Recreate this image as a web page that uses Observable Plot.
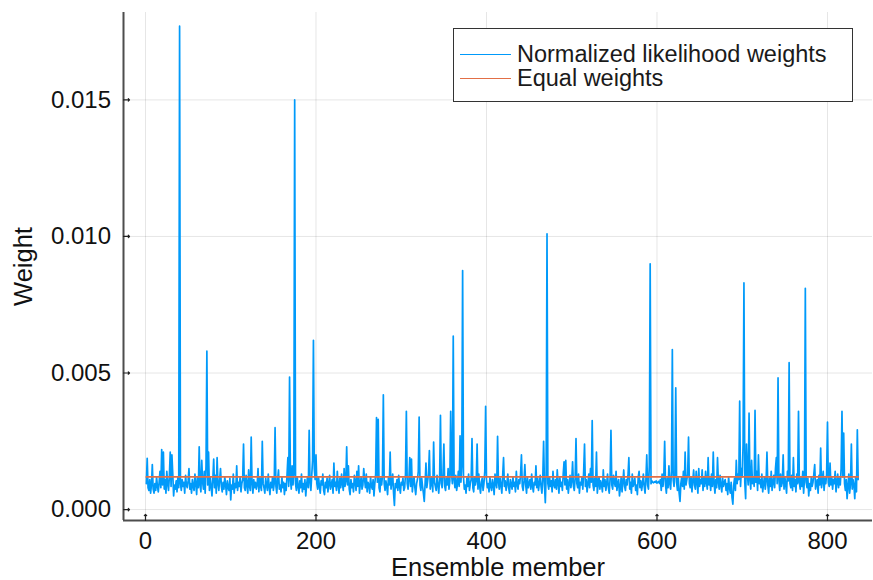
<!DOCTYPE html>
<html>
<head>
<meta charset="utf-8">
<script src="https://cdn.jsdelivr.net/npm/d3@7"></script>
<script src="https://cdn.jsdelivr.net/npm/@observablehq/plot@0.6"></script>
<style>
  html, body { margin: 0; padding: 0; background: #fff; }
  #wrap { position: relative; width: 873px; height: 580px; font-family: "Liberation Sans", Arial, sans-serif; }
  #legend { position: absolute; left: 453px; top: 28px; width: 400px; height: 74px; border: 1.5px solid #333; background: #fff; box-sizing: border-box; font-size: 23.5px; line-height: 24px; color: #1a1a1a; }
  #legend .row { position: absolute; left: 6px; height: 24px; display: flex; align-items: center; white-space: nowrap; }
  #legend .sw { width: 51px; height: 0; border-top: 1.5px solid; margin-right: 6px; }
  #legend span { display: inline-block; height: 24px; line-height: 24px; overflow: visible; }
</style>
</head>
<body>
<div id="wrap"></div>
<script>
// Normalized likelihood weights per ensemble member, in units of 1e-5
const weights1e5 = [
  95,188,80,70,110,60,90,165,75,60,95,70,120,85,65,100,140,80,220,90,
  210,75,110,60,140,95,70,120,210,85,200,130,50,90,75,105,65,120,80,1770,
  95,70,110,85,100,60,125,90,80,105,150,75,95,60,110,85,70,130,95,55,
  120,80,230,90,65,180,100,75,140,60,160,580,90,210,70,120,85,50,110,185,
  80,125,60,190,95,70,110,150,85,65,100,75,120,90,55,105,80,70,115,35,
  90,75,130,60,95,80,160,70,100,85,120,65,95,110,240,80,70,125,90,60,
  145,85,70,265,95,60,110,80,100,75,90,150,65,120,85,70,250,95,80,60,
  115,90,70,130,85,55,100,80,120,70,95,300,85,60,110,145,75,90,65,120,
  80,100,55,95,70,125,190,85,485,110,75,160,90,130,1500,95,70,120,85,60,
  105,80,130,65,95,75,110,50,90,120,80,290,100,70,125,180,620,150,110,200,
  95,75,120,85,60,105,90,130,70,55,100,80,115,65,95,125,75,90,110,60,
  170,85,100,70,140,90,60,115,80,130,95,70,150,85,105,230,90,160,75,55,
  110,80,95,65,125,100,70,140,85,160,60,95,120,75,90,150,110,80,130,65,
  100,90,60,120,85,75,110,50,95,130,337,100,330,80,65,115,90,125,420,95,
  70,105,85,55,120,90,210,75,100,130,60,15,95,80,110,70,125,85,60,100,
  90,115,70,80,130,360,95,75,110,190,85,185,65,100,120,80,55,95,110,140,
  339,90,70,115,85,60,30,95,170,80,105,130,216,75,95,120,65,247,100,85,
  70,125,90,60,110,345,95,80,130,240,85,70,115,90,150,75,105,360,130,95,
  635,110,80,125,70,95,140,85,270,100,160,875,120,75,90,60,115,85,130,70,
  95,110,260,80,65,120,90,105,240,75,130,85,60,100,115,70,95,140,378,110,
  80,95,65,120,85,70,110,90,55,130,95,80,268,100,75,115,90,60,125,190,
  85,105,70,95,130,80,60,110,90,75,120,85,100,65,140,90,75,110,95,130,
  200,85,70,105,165,90,60,120,80,95,110,75,130,85,65,100,90,160,80,115,
  70,95,125,85,60,110,250,90,25,130,1010,95,75,120,85,105,65,140,90,80,
  110,75,145,95,60,120,85,100,70,130,175,90,180,75,110,60,95,125,80,105,
  175,85,70,115,260,95,80,130,60,100,90,120,75,140,240,85,110,65,95,130,
  80,150,100,326,90,70,115,85,210,60,95,120,75,105,90,65,145,85,110,70,
  95,130,80,60,115,290,90,75,125,100,85,140,70,95,110,50,80,120,65,100,
  145,85,70,110,90,125,190,75,100,60,130,85,95,115,70,90,55,120,140,80,
  105,70,95,130,85,60,110,200,90,75,160,900,95,105,100,98,102,100,105,97,
  100,103,96,110,70,130,85,120,250,90,60,115,80,160,95,75,140,586,110,85,
  130,446,100,70,115,60,30,95,120,85,140,75,210,90,110,130,265,95,80,120,
  65,105,145,90,75,140,100,60,150,85,110,95,145,70,120,85,140,100,75,190,
  90,115,70,130,85,210,95,60,110,80,190,100,75,125,90,65,115,85,100,110,
  70,95,55,120,80,60,100,45,20,90,115,70,180,95,130,110,397,85,150,120,
  240,830,100,40,240,130,90,353,110,75,180,95,120,85,363,100,140,70,200,95,
  110,80,130,65,95,120,75,105,210,90,60,115,85,140,70,100,125,80,150,190,
  95,482,110,70,130,85,100,200,75,120,90,60,140,105,538,95,80,125,70,190,
  85,110,65,130,95,360,100,75,120,85,140,60,110,810,100,80,115,50,95,70,
  120,85,100,130,165,75,95,110,60,125,90,225,80,105,140,70,115,95,130,320,
  100,85,170,90,120,75,110,95,140,65,100,130,80,115,90,150,360,120,280,95,
  70,110,40,85,130,60,95,240,75,110,90,40,120,65,292,110
];
const xTicks = [0, 200, 400, 600, 800];
const yTicks = [0, 0.005, 0.010, 0.015];
const seriesNames = ["Normalized likelihood weights", "Equal weights"];
const colors = ["#009AFA", "#E26F46"];

const N = weights1e5.length;
const data = weights1e5.map((w, i) => ({member: i + 1, weight: w * 1e-5}));
const equal = data.map(d => ({member: d.member, weight: 1 / N}));

const xDomain = [-25.8, 852.8];
const yDomain = [-0.0004, 0.0182];
const axisColor = "#4d4d4d";
const font = "Liberation Sans, Arial, sans-serif";

const chart = Plot.plot({
  width: 873,
  height: 580,
  marginLeft: 123,
  marginRight: 1,
  marginTop: 12,
  marginBottom: 60,
  style: {fontFamily: font, fontSize: "24px", color: "#111", background: "#fff", overflow: "visible"},
  x: {domain: xDomain},
  y: {domain: yDomain},
  marks: [
    Plot.gridX(xTicks, {stroke: "#000", strokeOpacity: 0.1, strokeWidth: 1}),
    Plot.gridY(yTicks, {stroke: "#000", strokeOpacity: 0.1, strokeWidth: 1}),
    Plot.line(data, {x: "member", y: "weight", stroke: colors[0], strokeWidth: 1.7, clip: true}),
    Plot.line(equal, {x: "member", y: "weight", stroke: colors[1], strokeWidth: 1.7, clip: true}),
    // axis lines (left and bottom only)
    Plot.ruleX([xDomain[0]], {stroke: axisColor, strokeWidth: 2}),
    Plot.ruleY([yDomain[0]], {stroke: axisColor, strokeWidth: 2}),
    // inward tick marks
    Plot.vector(xTicks, {x: d => d, y: yDomain[0], length: 6, rotate: 0, anchor: "start", stroke: "#222", strokeWidth: 1.2}),
    Plot.vector(yTicks, {x: xDomain[0], y: d => d, length: 6, rotate: 90, anchor: "start", stroke: "#222", strokeWidth: 1.2}),
    // tick labels
    Plot.axisX(xTicks, {tickSize: 0, tickPadding: 11, fontSize: 24, label: null}),
    Plot.axisY(yTicks, {tickSize: 0, tickPadding: 12.5, fontSize: 24, label: null, tickFormat: d3.format(".3f")}),
    // axis titles
    Plot.axisX({ticks: [], tickSize: 0, label: "Ensemble member", labelAnchor: "center", labelArrow: "none", labelOffset: 55, fontSize: 25.5}),
    Plot.axisY({ticks: [], tickSize: 0, label: "Weight", labelAnchor: "center", labelArrow: "none", labelOffset: 110, fontSize: 25.5})
  ]
});

const wrap = document.getElementById("wrap");
wrap.appendChild(chart);
const legend = document.createElement("div");
legend.id = "legend";
seriesNames.forEach((name, i) => {
  const row = document.createElement("div");
  row.className = "row";
  row.style.top = (14 + i * 24 - 1) + "px";
  const sw = document.createElement("div");
  sw.className = "sw";
  sw.style.borderTopColor = colors[i];
  const t = document.createElement("span");
  t.textContent = name;
  row.appendChild(sw);
  row.appendChild(t);
  legend.appendChild(row);
});
wrap.appendChild(legend);
</script>
</body>
</html>
